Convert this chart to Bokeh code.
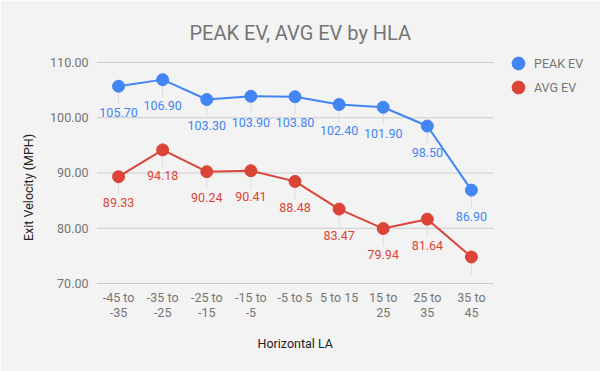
from bokeh.plotting import figure
from bokeh.models import (ColumnDataSource, Legend, LegendItem, FixedTicker,
                          NumeralTickFormatter, Range1d, Title)
from bokeh.core.properties import value
from bokeh.embed import file_html
from bokeh.resources import INLINE

categories = ["-45 to -35", "-35 to -25", "-25 to -15", "-15 to -5", "-5 to 5",
              "5 to 15", "15 to 25", "25 to 35", "35 to 45"]
tick_line1 = ["-45 to", "-35 to", "-25 to", "-15 to", "-5 to 5",
              "5 to 15", "15 to", "25 to", "35 to"]
tick_line2 = ["-35", "-25", "-15", "-5", "", "", "25", "35", "45"]
peak_ev = [105.70, 106.90, 103.30, 103.90, 103.80, 102.40, 101.90, 98.50, 86.90]
avg_ev = [89.33, 94.18, 90.24, 90.41, 88.48, 83.47, 79.94, 81.64, 74.80]
peak_labels = ["105.70", "106.90", "103.30", "103.90", "103.80", "102.40", "101.90", "98.50", "86.90"]
avg_labels = ["89.33", "94.18", "90.24", "90.41", "88.48", "83.47", "79.94", "81.64", ""]
y_ticks = [70, 80, 90, 100, 110]

BLUE = "#4285f4"
RED = "#db4437"
BG = "#f3f3f3"
GREY = "#757575"
FONT = "Roboto"
FS = "12.5px"

n = len(categories)
xs = list(range(n))
y_min = y_ticks[0]

p = figure(x_range=Range1d(-0.5, 10.926), y_range=Range1d(61.49, 113.26),
           width=600, height=371, output_backend="svg", toolbar_location=None,
           min_border_left=96, min_border_right=0, min_border_top=44, min_border_bottom=41,
           background_fill_color=BG, border_fill_color=BG, outline_line_color=None)

p.title.text = "PEAK EV, AVG EV by HLA"
p.title.text_font = FONT
p.title.text_font_size = "20px"
p.title.text_font_style = "normal"
p.title.text_color = GREY
p.title.align = "left"
p.title.offset = 93
p.title.standoff = 0

# horizontal gridlines over the category span
p.segment(x0=[-0.5] * len(y_ticks), y0=y_ticks, x1=[n - 0.5] * len(y_ticks), y1=y_ticks,
          line_color="#cccccc", line_width=1)

# category tick labels (two lines)
for lines, off in [(tick_line1, 14), (tick_line2, 29)]:
    p.text(xs, [y_min] * n, text=lines, text_color=GREY, text_font=value(FONT),
           text_font_size=FS, text_align="center", text_baseline="middle", y_offset=off)

leader_color = "#dddddd"
for vals, labels, color in [(peak_ev, peak_labels, BLUE), (avg_ev, avg_labels, RED)]:
    src = ColumnDataSource(dict(x=xs, y=vals, y2=[v - 3.2 for v in vals], lab=labels))
    p.segment(x0="x", y0="y", x1="x", y1="y2", source=src, line_color=leader_color, line_width=1)
    p.line("x", "y", source=src, line_color=color, line_width=2)
    p.text("x", "y", text="lab", source=src, text_color=color, text_font=value(FONT),
           text_font_size=FS, text_align="center", text_baseline="middle", y_offset=26)

r_peak = p.scatter(xs, peak_ev, size=12, fill_color=BLUE, line_color=BLUE)
r_avg = p.scatter(xs, avg_ev, size=12, fill_color=RED, line_color=RED)

for label, rend, vy in [("PEAK EV", r_peak, 251), ("AVG EV", r_avg, 227)]:
    lg = Legend(items=[LegendItem(label=label, renderers=[rend])],
                location=(406, vy), padding=0, margin=0, spacing=0,
                glyph_width=32, glyph_height=32, label_height=32, label_standoff=-3,
                label_text_font=FONT, label_text_font_size=FS, label_text_color=GREY,
                background_fill_alpha=0, border_line_alpha=0)
    p.add_layout(lg, "center")

p.yaxis.ticker = FixedTicker(ticks=y_ticks)
p.yaxis.formatter = NumeralTickFormatter(format="0.00")
p.yaxis.axis_label = "Exit Velocity (MPH)"
ax = p.yaxis[0]
ax.axis_line_color = None
ax.major_tick_line_color = None
ax.minor_tick_line_color = None
ax.major_label_text_font = FONT
ax.major_label_text_font_size = FS
ax.major_label_text_color = GREY
ax.axis_label_text_font = FONT
ax.axis_label_text_font_size = FS
ax.axis_label_text_font_style = "normal"
ax.axis_label_text_color = "#222222"
ax.major_label_standoff = 2
ax.axis_label_standoff = 11

p.xaxis.visible = False
xtitle = Title(text="Horizontal LA", align="left", offset=161, standoff=6,
               text_font=FONT, text_font_size=FS, text_font_style="normal",
               text_color="#222222")
p.add_layout(xtitle, "below")

p.xgrid.grid_line_color = None
p.ygrid.grid_line_color = None

open("out.html", "w").write(file_html(p, INLINE))
